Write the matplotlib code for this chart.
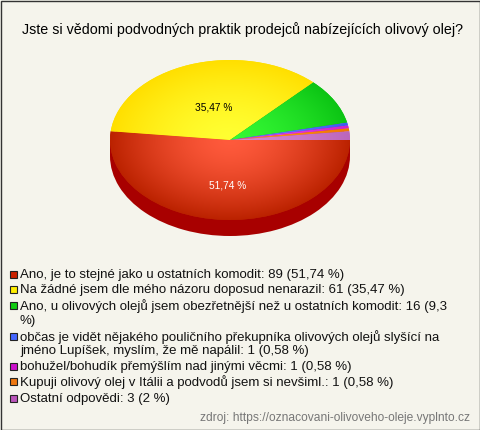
"""
Pie chart with fake 3D depth, survey on olive oil sellers.
"""
import matplotlib
matplotlib.use("Agg")
import matplotlib.pyplot as plt
import numpy as np
from matplotlib.colors import to_rgb
from matplotlib.patches import Rectangle

plt.rcParams['font.family'] = ['Liberation Sans', 'DejaVu Sans']

title = "Jste si vědomi podvodných praktik prodejců nabízejících olivový olej?"
source = "zdroj: https://oznacovani-olivoveho-oleje.vyplnto.cz"

values = [89, 61, 16, 1, 1, 1, 3]
pie_labels = ["51,74 %", "35,47 %", "", "", "", "", ""]
label_colors = ["white", "black", "black", "black", "black", "black", "black"]
inner_colors = ["#ff5a3c", "#ffff32", "#34f834", "#6a82ff", "#ee44ee", "#ff9420", "#d884d4"]
outer_colors = ["#bb2200", "#ffdf00", "#0cc414", "#3a5cf0", "#cc22cc", "#ee7700", "#bb66bb"]
side_color = "#a80000"
legend_colors = ["#cc2200", "#ffee00", "#11cc11", "#4466ff", "#cc11cc", "#ee7711", "#bb55bb"]

# one entry per text line, None means the line has no swatch
legend_lines = [
    ("Ano, je to stejné jako u ostatních komodit: 89 (51,74 %)", 0),
    ("Na žádné jsem dle mého názoru doposud nenarazil: 61 (35,47 %)", 1),
    ("Ano, u olivových olejů jsem obezřetnější než u ostatních komodit: 16 (9,3", 2),
    ("%)", None),
    ("občas je vidět nějakého pouličního překupníka olivových olejů slyšící na", 3),
    ("jméno Lupíšek, myslím, že mě napálil: 1 (0,58 %)", None),
    ("bohužel/bohudík přemýšlím nad jinými věcmi: 1 (0,58 %)", 4),
    ("Kupuji olivový olej v Itálii a podvodů jsem si nevšiml.: 1 (0,58 %)", 5),
    ("Ostatní odpovědi: 3 (2 %)", 6),
]
legend_y = [275, 290, 306, 321, 337, 351, 367, 382, 399]

W, H = 480, 430
bg = "#f5f4ec"

fig = plt.figure(figsize=(W / 100, H / 100), dpi=100, facecolor=bg)

# page axes in pixels, for all the text and the frame
page = fig.add_axes([0, 0, 1, 1], zorder=3)
page.set_xlim(0, W)
page.set_ylim(H, 0)
page.axis("off")
page.patch.set_alpha(0)

# pie axes, an ellipse 240 x 160 px around (230, 140), with 16 px depth
cx, cy, rx, ry, depth = 230, 140, 120, 80, 16
ax = fig.add_axes([(cx - rx) / W, 1 - (cy + ry + depth) / H, 2 * rx / W, (2 * ry + depth) / H])
ymin = -1 - depth / ry

ax.pie([1], colors=[side_color], radius=1, center=(0, -depth / ry), frame=True)
ax.add_patch(Rectangle((-1, -depth / ry), 2, depth / ry, color=side_color, lw=0))
wedges, _ = ax.pie(values, colors=outer_colors, radius=1, startangle=0, counterclock=False, frame=True)

# radial shading, clipped to each wedge
xx, yy = np.meshgrid(np.linspace(-1, 1, 480), np.linspace(-1, 1, 320))
rr = np.clip(np.hypot(xx, yy), 0, 1)[..., None] ** 1.5
for wedge, c_in, c_out in zip(wedges, inner_colors, outer_colors):
    shade = np.array(to_rgb(c_in)) * (1 - rr) + np.array(to_rgb(c_out)) * rr
    img = ax.imshow(shade, extent=(-1, 1, -1, 1), origin="lower", aspect="auto", zorder=2)
    img.set_clip_path(wedge)

ax.set_xlim(-1, 1)
ax.set_ylim(ymin, 1)
ax.axis("off")

# percent labels sit at 0.45 of the radius along each slice, moved down a bit
total = sum(values)
start = 0
for v, lab, col in zip(values, pie_labels, label_colors):
    mid = np.radians(-(start + v / 2) / total * 360)
    start += v
    if lab:
        page.text(cx + 0.4 * rx * np.cos(mid), cy - 0.5 * ry * np.sin(mid) + 5.5, lab,
                  color=col, fontsize=7.3, ha="center", va="center")

page.text(243, 30, title, fontsize=10.27, ha="center", va="center", color="black")

for (line, idx), y in zip(legend_lines, legend_y):
    page.text(20, y, line, fontsize=9.5, ha="left", va="center", color="#111111")
    if idx is not None:
        page.add_patch(Rectangle((10, y - 4), 7, 7, facecolor=legend_colors[idx],
                                 edgecolor="#222222", lw=0.8))

page.text(470, 418, source, fontsize=8.65, ha="right", va="center", color="#777777")

# dark frame along the edge
page.add_patch(Rectangle((0.5, 0.5), W - 1, H - 1, fill=False, edgecolor="#333333", lw=1))

fig.savefig("out.png", dpi=100, facecolor=bg)
